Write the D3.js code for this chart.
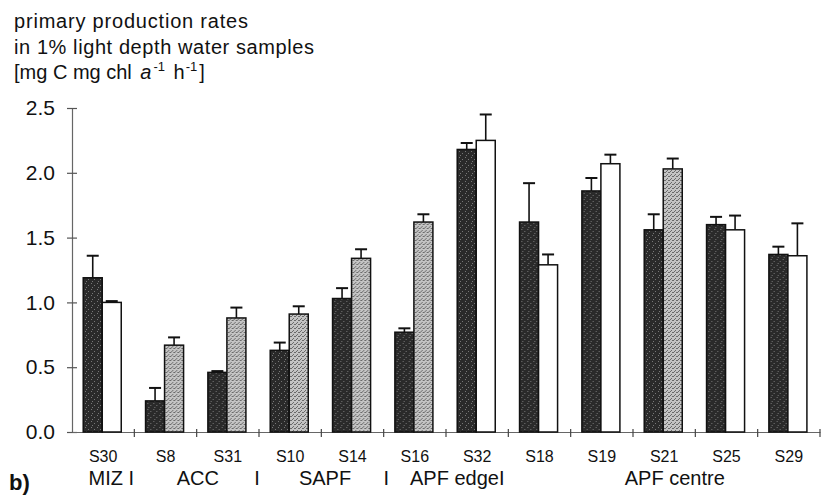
<!DOCTYPE html>
<html>
<head>
<meta charset="utf-8">
<script src="https://cdn.jsdelivr.net/npm/d3@7"></script>
<style>
  html, body { margin: 0; padding: 0; background: #fff; }
  svg { display: block; font-family: "Liberation Sans", Arial, sans-serif; }
</style>
</head>
<body>
<svg id="chart" width="821" height="497"></svg>
<script>
// ---- data ----
const categories = ["S30","S8","S31","S10","S14","S16","S32","S18","S19","S21","S25","S29"];
const seriesA = [1.19, 0.24, 0.46, 0.63, 1.03, 0.77, 2.18, 1.62, 1.86, 1.56, 1.60, 1.37];
const errA    = [0.17, 0.10, 0.01, 0.06, 0.08, 0.03, 0.05, 0.30, 0.10, 0.12, 0.06, 0.06];
const seriesB = [1.00, 0.67, 0.88, 0.91, 1.34, 1.62, 2.25, 1.29, 2.07, 2.03, 1.56, 1.36];
const errB    = [0.01, 0.06, 0.08, 0.06, 0.07, 0.06, 0.20, 0.08, 0.07, 0.08, 0.11, 0.25];
const seriesBKind = ["open","grey","grey","grey","grey","grey","open","open","open","grey","open","open"];
const yTicks = [0, 0.5, 1.0, 1.5, 2.0, 2.5];
const regionLabels = ["MIZ I", "ACC", "I", "SAPF", "I", "APF edgeI", "APF centre"];
const regionPos    = [0.63, 2.02, 2.97, 4.06, 5.04, 6.18, 9.67]; // in category units
const titleLines = ["primary production rates", "in 1% light depth water samples"];
const titleWidths = [234, 300];

// ---- layout ----
const svg = d3.select("#chart");
const mLeft = 72, mRight = 820, mTop = 108, mBottom = 432;

const x = d3.scaleBand().domain(categories).range([mLeft, mRight]).padding(0);
const bw = x.bandwidth();
const xs = d3.scaleBand().domain(["A","B"]).range([0.18 * bw, 0.79 * bw]).padding(0);
const y = d3.scaleLinear().domain([0, 2.5]).range([mBottom, mTop]);
const xc = d3.scaleLinear().domain([0, categories.length]).range([mLeft, mRight]);

const fills = { dark: "#2a2a2a", grey: "#b4b4b4", open: "#ffffff" };

// stipple pattern to imitate the print texture
const defs = svg.append("defs");
const pd = defs.append("pattern").attr("id","stipDark").attr("patternUnits","userSpaceOnUse")
  .attr("width",6).attr("height",6);
pd.append("rect").attr("width",6).attr("height",6).attr("fill",fills.dark);
[[1,1],[4,3],[2,5]].forEach(p => pd.append("rect").attr("x",p[0]).attr("y",p[1]).attr("width",1).attr("height",1).attr("fill","#777"));
const pg = defs.append("pattern").attr("id","stipGrey").attr("patternUnits","userSpaceOnUse")
  .attr("width",4).attr("height",4);
pg.append("rect").attr("width",4).attr("height",4).attr("fill","#c4c4c4");
[[0,0],[2,2],[3,0],[1,3]].forEach(p => pg.append("rect").attr("x",p[0]).attr("y",p[1]).attr("width",1).attr("height",1).attr("fill","#6a6a6a"));

const rows = categories.map((c, i) => ({
  cat: c, a: seriesA[i], ea: errA[i], b: seriesB[i], eb: errB[i], kind: seriesBKind[i]
}));

// ---- title ----
titleLines.forEach((t, i) => {
  svg.append("text").attr("x", 14).attr("y", 28 + i * 25.5).attr("font-size", 20).attr("fill", "#111")
    .attr("textLength", titleWidths[i]).attr("lengthAdjust", "spacing").text(t);
});
const t3 = svg.append("text").attr("x", 14).attr("y", 79).attr("font-size", 20).attr("fill", "#111");
t3.append("tspan").text("[mg C mg chl ");
t3.append("tspan").attr("font-style", "italic").attr("dx", 3).text("a");
t3.append("tspan").attr("font-size", 13).attr("dx", 2).attr("dy", -8).text("-1");
t3.append("tspan").attr("dx", 3).attr("dy", 8).text(" h");
t3.append("tspan").attr("font-size", 13).attr("dx", 1).attr("dy", -8).text("-1");
t3.append("tspan").attr("dx", 2).attr("dy", 8).text("]");

// ---- axes ----
const yAxis = d3.axisLeft(y).tickValues(yTicks).tickFormat(d3.format(".1f")).tickSize(0);
const gy = svg.append("g").attr("transform", `translate(${mLeft},0)`).call(yAxis);
gy.select(".domain").attr("stroke", "#666").attr("stroke-width", 1.2);
gy.selectAll(".tick text").attr("x", -17).attr("font-size", 21).attr("fill", "#111")
  .attr("font-family", "'Liberation Sans', Arial, sans-serif");
gy.selectAll(".tick").append("line").attr("x1", -5).attr("x2", 5).attr("stroke", "#555").attr("stroke-width", 1.2);

const xAxis = d3.axisBottom(x).tickSize(0).tickSizeOuter(0);
const gx = svg.append("g").attr("transform", `translate(0,${mBottom})`).call(xAxis);
gx.select(".domain").attr("stroke", "#666").attr("stroke-width", 1.2);
gx.selectAll(".tick text").attr("y", 19).attr("dy", "0.71em").attr("font-size", 16).attr("fill", "#111")
  .attr("font-family", "'Liberation Sans', Arial, sans-serif");
gx.selectAll(".sep").data(d3.range(1, categories.length + 1)).enter().append("line")
  .attr("x1", d => xc(d)).attr("x2", d => xc(d)).attr("y1", -3).attr("y2", 5)
  .attr("stroke", "#444").attr("stroke-width", 1.2);

// ---- bars ----
const g = svg.append("g");
const grp = g.selectAll(".grp").data(rows).enter().append("g")
  .attr("transform", d => `translate(${x(d.cat)},0)`);

function errBar(sel, key, ekey, sKey) {
  const cx = xs(sKey) + xs.bandwidth() / 2;
  sel.append("line")
    .attr("x1", cx).attr("x2", cx)
    .attr("y1", d => y(d[key])).attr("y2", d => y(d[key] + d[ekey]))
    .attr("stroke", "#111").attr("stroke-width", 1.6);
  sel.append("line")
    .attr("x1", cx - 6).attr("x2", cx + 6)
    .attr("y1", d => y(d[key] + d[ekey])).attr("y2", d => y(d[key] + d[ekey]))
    .attr("stroke", "#111").attr("stroke-width", 2);
}
errBar(grp, "a", "ea", "A");
errBar(grp, "b", "eb", "B");

grp.append("rect")
  .attr("x", xs("A")).attr("width", xs.bandwidth())
  .attr("y", d => y(d.a)).attr("height", d => y(0) - y(d.a))
  .attr("fill", "url(#stipDark)").attr("stroke", "#111").attr("stroke-width", 1.5);
grp.append("rect")
  .attr("x", xs("B")).attr("width", xs.bandwidth())
  .attr("y", d => y(d.b)).attr("height", d => y(0) - y(d.b))
  .attr("fill", d => d.kind === "grey" ? "url(#stipGrey)" : fills.open)
  .attr("stroke", "#111").attr("stroke-width", 1.5);

// ---- region labels ----
svg.selectAll(".region").data(regionLabels).enter().append("text")
  .attr("x", (d, i) => xc(regionPos[i])).attr("y", 485)
  .attr("text-anchor", "middle").attr("font-size", 20).attr("fill", "#111")
  .text(d => d);

// panel label
svg.append("text").attr("x", 9).attr("y", 490).attr("font-size", 22).attr("font-weight", "bold")
  .attr("fill", "#111").text("b)");
</script>
</body>
</html>
